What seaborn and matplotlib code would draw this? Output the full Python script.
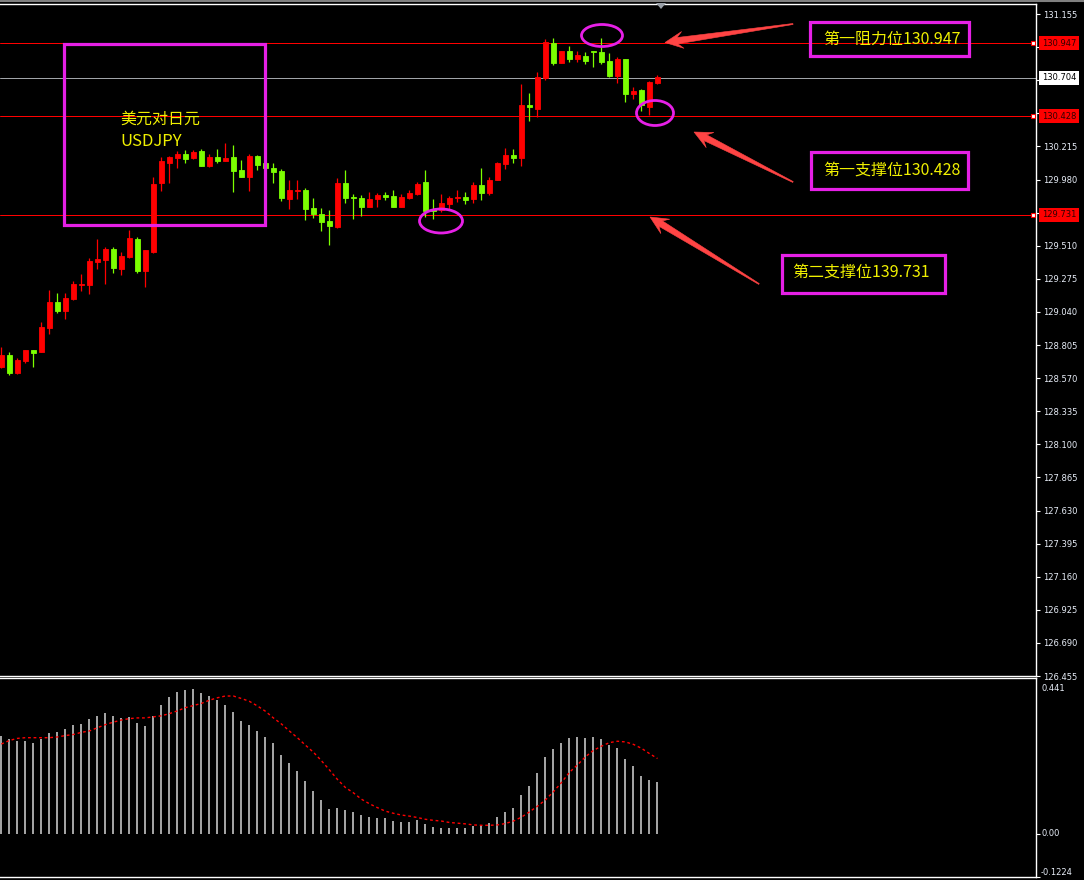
import numpy as np
import pandas as pd
import seaborn as sns
import matplotlib
matplotlib.use("Agg")
import matplotlib.pyplot as plt
from matplotlib.patches import Rectangle, Ellipse, Polygon
from matplotlib.lines import Line2D
from matplotlib.transforms import Affine2D, blended_transform_factory

# USDJPY candles (price)
opens = [128.651, 128.734, 128.603, 128.693, 128.769, 128.757, 128.928, 129.110, 129.048, 129.131,
         129.231, 129.231, 129.396, 129.408, 129.486, 129.344, 129.432, 129.557, 129.332, 129.467,
         129.952, 130.099, 130.135, 130.161, 130.135, 130.182, 130.078, 130.137, 130.111, 130.139,
         130.047, 130.000, 130.146, 130.094, 130.059, 130.040, 129.841, 129.898, 129.905, 129.775,
         129.735, 129.685, 129.640, 129.955, 129.853, 129.846, 129.787, 129.841, 129.867, 129.862,
         129.787, 129.851, 129.877, 129.959, 129.768, 129.763, 129.806, 129.846, 129.855, 129.843,
         129.941, 129.884, 129.976, 130.092, 130.154, 130.135, 130.506, 130.480, 130.698, 130.951,
         130.807, 130.892, 130.837, 130.854, 130.890, 130.885, 130.821, 130.714, 130.835, 130.589,
         130.615, 130.497, 130.665]
closes = [128.734, 128.603, 128.698, 128.769, 128.745, 128.935, 129.112, 129.048, 129.141, 129.238,
          129.238, 129.401, 129.415, 129.486, 129.349, 129.439, 129.564, 129.332, 129.479, 129.948,
          130.111, 130.139, 130.161, 130.127, 130.175, 130.078, 130.139, 130.113, 130.132, 130.042,
          130.000, 130.149, 130.085, 130.059, 130.035, 129.851, 129.905, 129.903, 129.770, 129.735,
          129.680, 129.652, 129.957, 129.851, 129.848, 129.787, 129.841, 129.870, 129.853, 129.787,
          129.858, 129.884, 129.950, 129.758, 129.758, 129.813, 129.848, 129.853, 129.836, 129.941,
          129.886, 129.976, 130.097, 130.154, 130.135, 130.509, 130.492, 130.705, 130.953, 130.809,
          130.894, 130.835, 130.864, 130.823, 130.885, 130.814, 130.714, 130.835, 130.589, 130.608,
          130.509, 130.672, 130.705]
highs = [128.793, 128.757, 128.710, 128.769, 128.769, 128.970, 129.195, 129.171, 129.171, 129.259,
         129.309, 129.425, 129.560, 129.503, 129.503, 129.467, 129.621, 129.569, 129.479, 130.000,
         130.142, 130.146, 130.182, 130.189, 130.189, 130.196, 130.161, 130.196, 130.236, 130.225,
         130.118, 130.158, 130.154, 130.099, 130.094, 130.052, 129.976, 129.976, 129.917, 129.846,
         129.775, 129.763, 129.988, 130.047, 129.877, 129.870, 129.888, 129.886, 129.888, 129.905,
         129.874, 129.905, 129.964, 130.047, 129.841, 129.877, 129.865, 129.905, 129.891, 129.964,
         130.064, 130.000, 130.101, 130.206, 130.196, 130.658, 130.596, 130.745, 130.977, 130.987,
         130.894, 130.930, 130.892, 130.887, 130.892, 130.987, 130.880, 130.852, 130.835, 130.636,
         130.622, 130.679, 130.722]
lows = [128.639, 128.592, 128.600, 128.674, 128.651, 128.757, 128.880, 129.029, 128.987, 129.124,
        129.190, 129.164, 129.342, 129.235, 129.313, 129.299, 129.420, 129.313, 129.214, 129.460,
        129.900, 129.957, 130.064, 130.094, 130.123, 130.078, 130.071, 130.099, 130.111, 129.893,
        130.000, 129.900, 130.047, 130.056, 129.957, 129.827, 129.770, 129.841, 129.692, 129.709,
        129.614, 129.515, 129.638, 129.810, 129.699, 129.720, 129.785, 129.787, 129.834, 129.787,
        129.787, 129.839, 129.870, 129.711, 129.697, 129.751, 129.768, 129.822, 129.806, 129.815,
        129.834, 129.872, 129.976, 130.056, 130.099, 130.078, 130.397, 130.426, 130.686, 130.795,
        130.807, 130.814, 130.814, 130.802, 130.781, 130.797, 130.705, 130.667, 130.532, 130.551,
        130.468, 130.438, 130.658]

# MACD histogram and signal
macd_hist = [0.278, 0.267, 0.264, 0.264, 0.258, 0.267, 0.284, 0.289, 0.298, 0.309,
             0.312, 0.326, 0.334, 0.343, 0.334, 0.329, 0.331, 0.315, 0.306, 0.334,
             0.365, 0.388, 0.402, 0.407, 0.410, 0.399, 0.390, 0.379, 0.365, 0.346,
             0.320, 0.309, 0.292, 0.275, 0.256, 0.222, 0.199, 0.177, 0.149, 0.121,
             0.096, 0.070, 0.073, 0.067, 0.062, 0.053, 0.048, 0.045, 0.045, 0.037,
             0.034, 0.034, 0.039, 0.028, 0.020, 0.017, 0.017, 0.017, 0.017, 0.022,
             0.025, 0.031, 0.048, 0.062, 0.073, 0.110, 0.135, 0.171, 0.216, 0.239,
             0.258, 0.270, 0.275, 0.272, 0.275, 0.267, 0.250, 0.242, 0.213, 0.191,
             0.163, 0.152, 0.146]
macd_signal = [0.254, 0.264, 0.270, 0.272, 0.272, 0.272, 0.272, 0.274, 0.278, 0.281,
               0.287, 0.291, 0.300, 0.309, 0.316, 0.322, 0.326, 0.328, 0.328, 0.331,
               0.334, 0.340, 0.348, 0.357, 0.363, 0.369, 0.378, 0.385, 0.390, 0.390,
               0.383, 0.375, 0.362, 0.347, 0.328, 0.311, 0.291, 0.272, 0.251, 0.231,
               0.207, 0.181, 0.154, 0.131, 0.116, 0.098, 0.085, 0.074, 0.064, 0.058,
               0.053, 0.050, 0.046, 0.041, 0.038, 0.036, 0.032, 0.030, 0.028, 0.025,
               0.024, 0.024, 0.025, 0.029, 0.036, 0.047, 0.062, 0.078, 0.096, 0.119,
               0.145, 0.174, 0.195, 0.218, 0.236, 0.248, 0.258, 0.262, 0.260, 0.253,
               0.242, 0.227, 0.213]

# key levels
resistance = 130.947
support1 = 130.428
support2 = 129.731
last_price = 130.704

price_ticks = [126.455, 126.690, 126.925, 127.160, 127.395, 127.630, 127.865,
               128.100, 128.335, 128.570, 128.805, 129.040, 129.275, 129.510,
               129.745, 129.980, 130.215, 130.450, 130.685, 130.920, 131.155]
# labels hidden behind the level boxes are left blank
price_tick_labels = ["126.455", "126.690", "126.925", "127.160", "127.395", "127.630", "127.865",
                     "128.100", "128.335", "128.570", "128.805", "129.040", "129.275", "129.510",
                     "", "129.980", "130.215", "", "", "", "131.155"]
macd_labels = ["0.441", "0.00", "-0.1224"]

W, H = 1084, 880
RED = "#FF0000"
GREEN = "#7CFF00"
MAGENTA = "#E620E6"
YELLOW = "#F0F000"
ARROW = "#FF4444"
LABEL = "#E8EEF8"
CJK = ["Noto Sans CJK SC", "DejaVu Sans"]

sns.set_style("dark", {"axes.facecolor": "black", "figure.facecolor": "black",
                       "axes.edgecolor": "white", "axes.grid": False})
plt.rcParams["font.family"] = ["DejaVu Sans", "Noto Sans CJK SC"]

fig = plt.figure(figsize=(W / 100, H / 100), dpi=100)
fig.patch.set_facecolor("black")
pix = Affine2D().scale(1 / W, -1 / H).translate(0, 1) + fig.transFigure

ax1 = fig.add_axes([0, 1 - 676 / H, 1036 / W, (676 - 4) / H])
ax2 = fig.add_axes([0, 1 - 877 / H, 1036 / W, (877 - 678) / H])

df = pd.DataFrame({"open": opens, "high": highs, "low": lows, "close": closes,
                   "hist": macd_hist, "signal": macd_signal})
df["i"] = np.arange(len(df))
df["color"] = np.where(df["close"] >= df["open"], RED, GREEN)

# candles
ax1.vlines(df["i"], df["low"], df["high"], colors=df["color"], lw=0.9, zorder=3)
ax1.bar(df["i"], (df["close"] - df["open"]).abs(), bottom=df[["open", "close"]].min(axis=1),
        width=0.6, color=df["color"], edgecolor=df["color"], lw=0.6, zorder=4)

# support / resistance and last price lines, 1px snapped
for lvl in [resistance, support1, support2]:
    ax1.axhline(lvl, color=RED, lw=0.72, snap=True, zorder=2)
ax1.axhline(last_price, color="#A0A4A8", lw=0.72, snap=True, zorder=2)

ax1.set_xlim(-0.16, 129.3)
ax1.set_ylim(126.455, 131.226)
ax1.yaxis.tick_right()
ax1.set_yticks(price_ticks)
ax1.set_yticklabels(price_tick_labels)
ax1.tick_params(axis="y", direction="out", length=3, width=0.8, color="white",
                labelcolor=LABEL, labelsize=6, pad=2)
ax1.tick_params(axis="x", bottom=False, labelbottom=False)
ax1.spines["left"].set_visible(False)
for s in ["top", "right", "bottom"]:
    ax1.spines[s].set_color("white")
    ax1.spines[s].set_linewidth(1)

# level labels on price axis
blend = blended_transform_factory(fig.transFigure, ax1.transData)
for lvl, fc, tc in [(resistance, RED, "#300000"), (support1, RED, "#300000"),
                    (support2, RED, "#300000"), (last_price, "white", "black")]:
    ax1.text(1059 / W, lvl, f"{lvl:.3f}", transform=blend, ha="center", va="center",
             fontsize=6, color=tc, zorder=10, clip_on=False,
             bbox=dict(boxstyle="square,pad=0.3", fc=fc, ec="none"))
for lvl in [resistance, support1, support2]:
    ax1.plot([1033 / W], [lvl], transform=blend, marker="s", ms=3.2, mfc="white",
             mec=RED, mew=0.8, clip_on=False, zorder=11)

# MACD panel
ax2.vlines(df["i"], 0, df["hist"], colors="#C4C4C4", lw=1.2)
sns.lineplot(data=df, x="i", y="signal", ax=ax2, color=RED, lw=1.0,
             linestyle=(0, (2, 2)))
ax2.set_xlim(-0.16, 129.3)
ax2.set_ylim(-0.1224, 0.441)
ax2.set_xlabel("")
ax2.set_ylabel("")
ax2.yaxis.tick_right()
ax2.set_yticks([0, -0.1224])
ax2.set_yticklabels([])
ax2.set_xticks(np.arange(0, 130, 8))
ax2.set_xticklabels([])
ax2.tick_params(axis="x", direction="out", length=3, width=0.8, color="white")
ax2.tick_params(axis="y", direction="out", length=3, width=0.8, color="white")
ax2.spines["left"].set_visible(False)
for s in ["top", "right", "bottom"]:
    ax2.spines[s].set_color("white")
    ax2.spines[s].set_linewidth(1)
mblend = blended_transform_factory(fig.transFigure, ax2.transData)
ax2.text(1041 / W, 1 - 688 / H, macd_labels[0], transform=fig.transFigure, ha="left",
         va="center", fontsize=6, color=LABEL, clip_on=False)
ax2.text(1041 / W, 0.0, macd_labels[1], transform=mblend, ha="left", va="center",
         fontsize=6, color=LABEL, clip_on=False)
ax2.text(1041 / W, -0.1224, macd_labels[2], transform=mblend, ha="left", va="bottom",
         fontsize=6, color=LABEL, clip_on=False)

# window decorations
fig.add_artist(Line2D([0, W], [1, 1], transform=pix, color="#808080", lw=1.5))
fig.add_artist(Polygon([[656, 3], [666, 3], [661, 9]], closed=True, transform=pix,
                       fc="#9AA0A8", ec="none"))

# annotations
def box(x0, y0, x1, y1):
    fig.add_artist(Rectangle((x0, y0), x1 - x0, y1 - y0, transform=pix, fill=False,
                             ec=MAGENTA, lw=2.3))


def arrow(tail, tip):
    t = np.array(tail, float)
    h = np.array(tip, float)
    u = (h - t) / np.linalg.norm(h - t)
    n = np.array([-u[1], u[0]])
    L = 18
    base = h - u * L * 0.7
    back = h - u * L
    pts = [t + n * 0.5, base + n * 3.2, back + n * 8.5, h, back - n * 8.5, base - n * 3.2, t - n * 0.5]
    fig.add_artist(Polygon(pts, closed=True, transform=pix, fc=ARROW, ec=ARROW, lw=0.4))


box(64, 44, 265, 225)
fig.text(120 / W, 1 - 119.5 / H, "美元对日元", family=CJK, fontsize=11.5, color=YELLOW,
         ha="left", va="center")
fig.text(120 / W, 1 - 141 / H, "USDJPY", family=CJK, fontsize=12, color=YELLOW,
         ha="left", va="center")

box(810, 22, 969, 56)
fig.text(892 / W, 1 - 39.5 / H, "第一阻力位130.947", family=CJK, fontsize=11.5,
         color=YELLOW, ha="center", va="center")
box(811, 152, 968, 189)
fig.text(892 / W, 1 - 170.5 / H, "第一支撑位130.428", family=CJK, fontsize=11.5,
         color=YELLOW, ha="center", va="center")
box(782, 255, 945, 293)
fig.text(861 / W, 1 - 272.5 / H, "第二支撑位139.731", family=CJK, fontsize=11.5,
         color=YELLOW, ha="center", va="center")

arrow((793, 24), (665, 42.5))
arrow((793, 182), (694, 132))
arrow((759, 284), (650, 217))

for cx, cy, ew, eh in [(602, 35.5, 41, 22), (655, 113, 37, 25), (441, 221, 43, 24)]:
    fig.add_artist(Ellipse((cx, cy), ew, eh, transform=pix, fill=False, ec=MAGENTA, lw=2))

fig.savefig("out.png", dpi=100, facecolor="black")
